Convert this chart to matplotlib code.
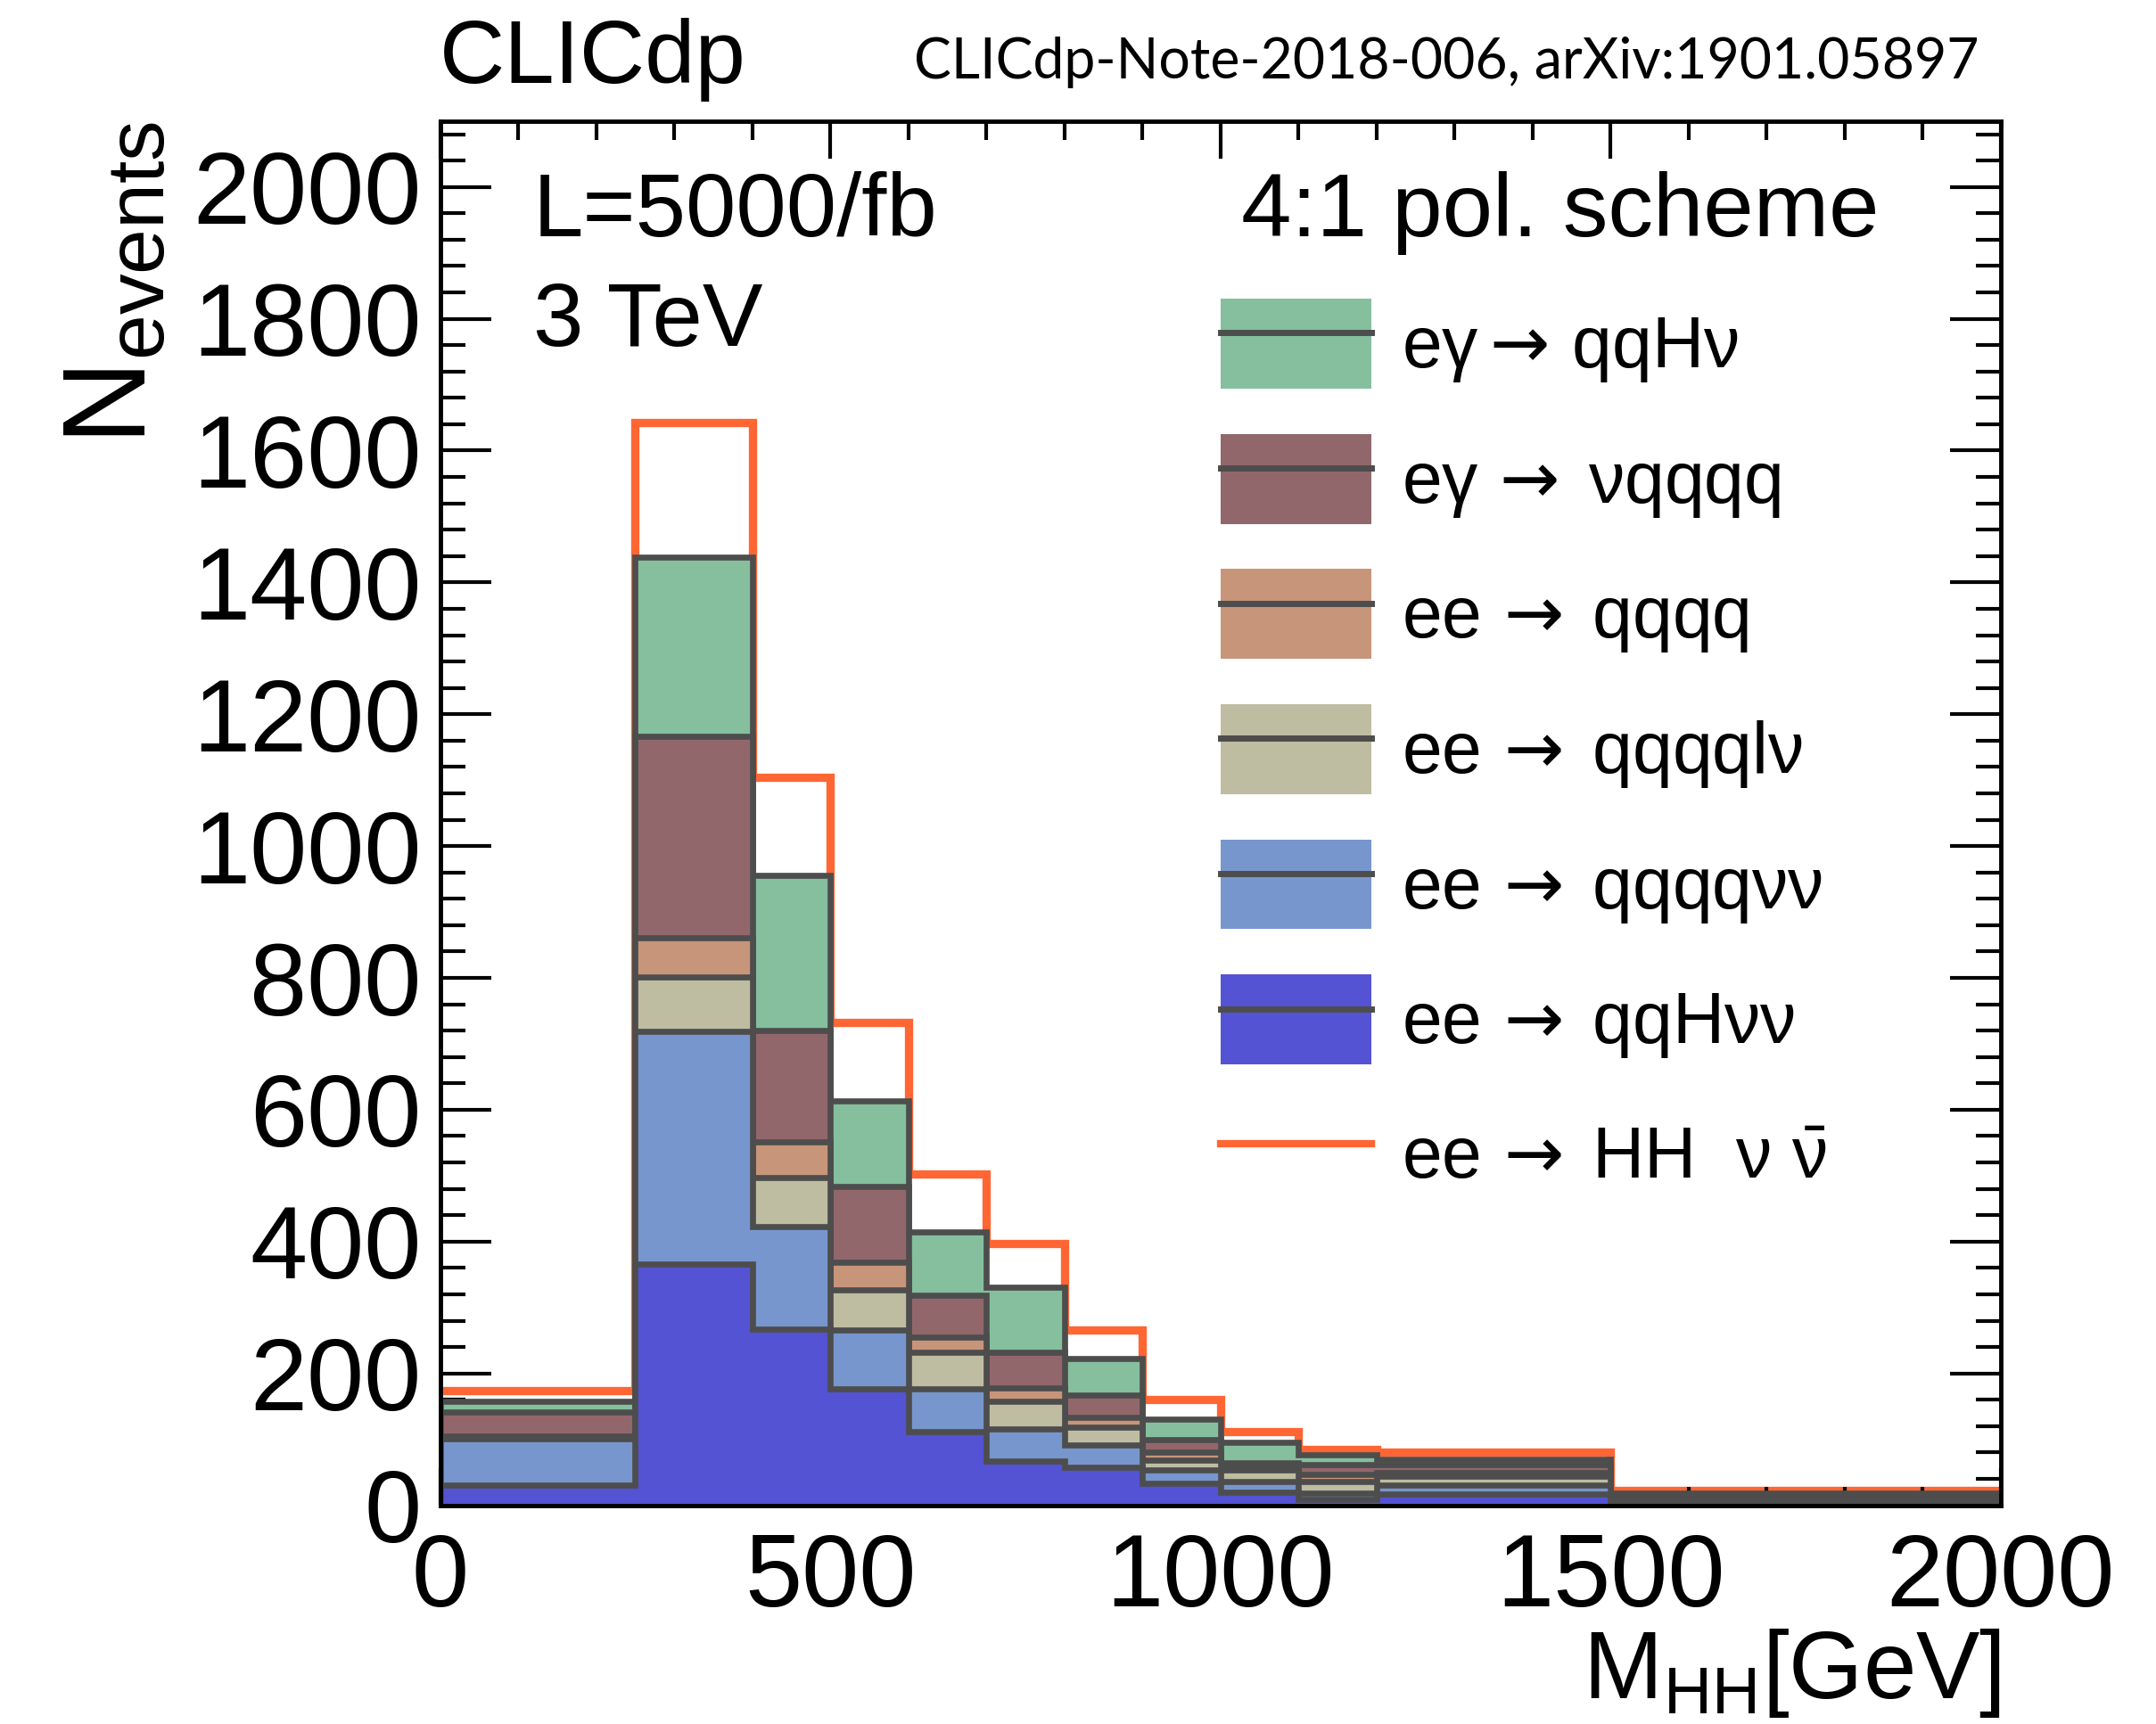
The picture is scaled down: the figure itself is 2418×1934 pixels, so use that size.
import numpy as np
import matplotlib
matplotlib.use('Agg')
import matplotlib.pyplot as plt
from matplotlib.patches import Patch
from matplotlib.lines import Line2D
from matplotlib.ticker import MultipleLocator

plt.rcParams['font.family'] = ['Liberation Sans', 'DejaVu Sans']
plt.rcParams['mathtext.fontset'] = 'custom'
plt.rcParams['mathtext.rm'] = 'Liberation Sans'
plt.rcParams['mathtext.it'] = 'Liberation Sans'
plt.rcParams['mathtext.sf'] = 'DejaVu Sans'   # only used for the arrows
plt.rcParams['mathtext.default'] = 'regular'

# bin edges, M_HH [GeV]
edges = [0, 250, 400, 500, 600, 700, 800, 900, 1000, 1100, 1200, 1500, 2000]

# events per bin, stack order bottom -> top
qqHvv = [31, 366, 267, 176, 111, 67, 57, 33, 20, 9, 17, 3]
qqqqvv = [70, 353, 156, 90, 66, 49, 35, 21, 16, 9, 14, 3]
qqqqlv = [2, 82, 74, 61, 55, 42, 26, 14, 17, 18, 13, 4]
qqqq = [2, 60, 54, 42, 23, 20, 15, 12, 5, 11, 6, 1]
vqqqq = [37, 306, 169, 114, 63, 54, 34, 19, 7, 14, 11, 3]
qqHv = [15, 272, 235, 130, 97, 99, 56, 31, 31, 15, 9, 4]
# signal, stacked on top
HHvv = [17, 203, 150, 120, 88, 66, 43, 30, 16, 9, 10, 5]

arr = r'$\,\mathsf{\rightarrow}\;$'
bkg_labels = ['ee' + arr + 'qqH\u03bd\u03bd', 'ee' + arr + 'qqqq\u03bd\u03bd',
              'ee' + arr + 'qqqql\u03bd', 'ee' + arr + 'qqqq',
              'e\u03b3' + arr + '\u03bdqqqq', 'e\u03b3$\\mathsf{\\rightarrow}\\,$qqH\u03bd']
sig_label = 'ee' + arr + 'HH  \u03bd $\\bar{\\nu}$'
bkg_colors = ['#5353D3', '#7896CE', '#BFBDA1', '#C7957A', '#92676C', '#85BF9E']
edge_col = '#4D4D4D'
sig_col = '#FF6633'

stack = np.array([qqHvv, qqqqvv, qqqqlv, qqqq, vqqqq, qqHv])
cum = np.cumsum(stack, axis=0)
total = cum[-1] + np.array(HHvv)

fig = plt.figure(figsize=(24.18, 19.34), dpi=100)
ax = fig.add_axes([0.2041, 0.1269, 0.7238, 0.8029])

# signal on top of the stack, drawn as outline
ax.stairs(total, edges, baseline=None, edgecolor=sig_col, linewidth=6.7, zorder=1)

# stack, drawn from the total down
for i in reversed(range(len(stack))):
    ax.stairs(cum[i], edges, baseline=0, fill=True, facecolor=bkg_colors[i],
              edgecolor=edge_col, linewidth=4.8, zorder=2)

ax.set_xlim(0, 2000)
ax.set_ylim(0, 2100)
ax.xaxis.set_major_locator(MultipleLocator(500))
ax.xaxis.set_minor_locator(MultipleLocator(100))
ax.yaxis.set_major_locator(MultipleLocator(200))
ax.yaxis.set_minor_locator(MultipleLocator(40))
ax.tick_params(which='both', direction='in', top=True, right=True, width=3, labelsize=83)
ax.tick_params(axis='x', which='major', length=30, pad=22)
ax.tick_params(axis='x', which='minor', length=15)
ax.tick_params(axis='y', which='major', length=41, pad=15)
ax.tick_params(axis='y', which='minor', length=20)
for s in ax.spines.values():
    s.set_linewidth(3.5)

ax.set_xlabel('M$_{HH}$[GeV]', fontsize=77, loc='right')
ax.xaxis.set_label_coords(1.0, -0.088)
ax.set_ylabel('N$_{events}$', fontsize=94, loc='top')
ax.yaxis.set_label_coords(-0.173, 1.0)

ax.text(0.0597, 0.9167, 'L=5000/fb', transform=ax.transAxes, fontsize=73, va='baseline')
ax.text(0.0597, 0.8373, '3 TeV', transform=ax.transAxes, fontsize=73, va='baseline')
ax.text(0.5134, 0.9167, '4:1 pol. scheme', transform=ax.transAxes, fontsize=73, va='baseline')

fig.text(0.204, 0.952, 'CLICdp', fontsize=73, ha='left', va='baseline')
fig.text(0.918, 0.9545, 'CLICdp-Note-2018-006, arXiv:1901.05897', fontsize=45,
         family=['Lato', 'DejaVu Sans'], ha='right', va='baseline')

# legend: top to bottom as in the plot
handles = []
labels = []
for i in reversed(range(len(stack))):
    handles.append((Patch(facecolor=bkg_colors[i], edgecolor='none'),
                    Line2D([], [], color=edge_col, linewidth=5)))
    labels.append(bkg_labels[i])
handles.append(Line2D([], [], color=sig_col, linewidth=6))
labels.append(sig_label)
ax.legend(handles, labels, loc='upper left', bbox_to_anchor=(0.5003, 0.8717),
          frameon=False, borderpad=0, borderaxespad=0, prop={'size': 58},
          handlelength=2.1, handleheight=1.55, labelspacing=0.63, handletextpad=0.42)

fig.savefig('out.png', dpi=100)
